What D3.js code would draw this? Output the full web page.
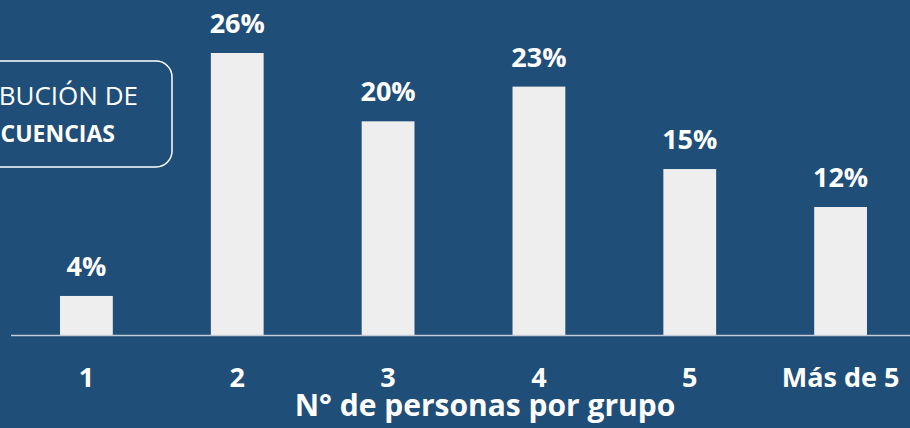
<!DOCTYPE html>
<html>
<head>
<meta charset="utf-8">
<script src="https://cdn.jsdelivr.net/npm/d3@7"></script>
<style>
  html, body { margin: 0; padding: 0; background: #1F4E79; }
  svg { display: block; }
</style>
</head>
<body>
<svg id="chart" width="910" height="428"></svg>
<script>
// data
const categories = ["1", "2", "3", "4", "5", "Más de 5"];
const shares = [0.036, 0.26, 0.197, 0.229, 0.153, 0.118];
const axisTitle = "N° de personas por grupo";
const boxLines = ["DISTRIBUCIÓN DE", "FRECUENCIAS"];

const W = 910, H = 428;
const font = "'Open Sans', sans-serif";
const svg = d3.select("#chart");

svg.append("rect").attr("width", W).attr("height", H).attr("fill", "#1F4E79");

const x = d3.scaleBand()
  .domain(categories)
  .range([11, 916])
  .paddingInner(0.65)
  .paddingOuter(0.325);

const y = d3.scaleLinear()
  .domain([0, 0.26])
  .range([335, 53]);

// title box, cut off at the left edge
svg.append("rect")
  .attr("x", -60).attr("y", 61)
  .attr("width", 232).attr("height", 106)
  .attr("rx", 16)
  .attr("fill", "none")
  .attr("stroke", "#fff")
  .attr("stroke-width", 1.5);

svg.append("text")
  .attr("x", 138).attr("y", 105)
  .attr("text-anchor", "end")
  .style("font-family", font).style("font-size", "26px")
  .attr("fill", "#fff")
  .text(boxLines[0]);

svg.append("text")
  .attr("x", 115).attr("y", 142)
  .attr("text-anchor", "end")
  .style("font-family", font).style("font-size", "23px").style("font-weight", "bold")
  .attr("fill", "#fff")
  .text(boxLines[1]);

// bars
svg.selectAll(".bar")
  .data(shares)
  .join("rect")
  .attr("class", "bar")
  .attr("x", (d, i) => x(categories[i]))
  .attr("y", d => y(d))
  .attr("width", x.bandwidth())
  .attr("height", d => y(0) - y(d))
  .attr("fill", "#EEEEEE");

// value labels
svg.selectAll(".val")
  .data(shares)
  .join("text")
  .attr("class", "val")
  .attr("x", (d, i) => x(categories[i]) + x.bandwidth() / 2)
  .attr("y", d => y(d) - 20)
  .attr("text-anchor", "middle")
  .style("font-family", font).style("font-size", "27px").style("font-weight", "bold")
  .attr("fill", "#fff")
  .text(d => d3.format(".0%")(d));

// baseline
svg.append("line")
  .attr("x1", 11).attr("x2", W)
  .attr("y1", y(0) + 0.5).attr("y2", y(0) + 0.5)
  .attr("stroke", "#C3CCD6")
  .attr("stroke-width", 1.5);

// category labels
svg.selectAll(".cat")
  .data(categories)
  .join("text")
  .attr("class", "cat")
  .attr("x", d => x(d) + x.bandwidth() / 2)
  .attr("y", 387)
  .attr("text-anchor", "middle")
  .style("font-family", font).style("font-size", "27px").style("font-weight", "bold")
  .attr("fill", "#fff")
  .text(d => d);

svg.append("text")
  .attr("x", 485).attr("y", 416)
  .attr("text-anchor", "middle")
  .style("font-family", font).style("font-size", "30px").style("font-weight", "bold")
  .attr("fill", "#fff")
  .text(axisTitle);
</script>
</body>
</html>
